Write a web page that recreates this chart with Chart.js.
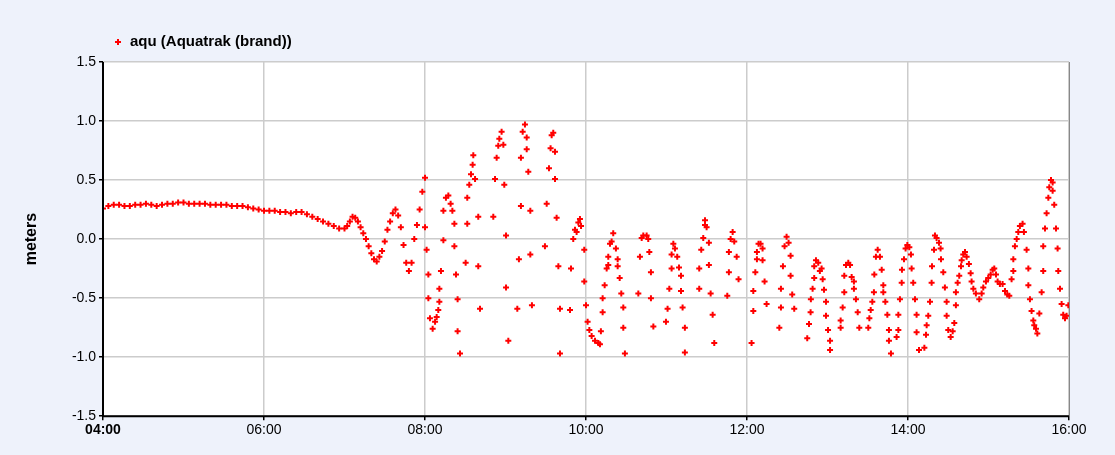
<!DOCTYPE html>
<html><head><meta charset="utf-8">
<script src="https://cdn.jsdelivr.net/npm/chart.js@4/dist/chart.umd.min.js"></script>
<style>html,body{margin:0;padding:0;background:#eef2fb;}canvas{display:block;}</style>
</head><body><canvas id="c" width="1115" height="455"></canvas>
<script>
// minutes after 04:00
const minutes = [0,4,8,12,16,20,24,28,32,36,40,44,48,52,56,60,64,68,72,76,80,84,88,92,96,100,104,108,112,116,120,124,128,132,136,140,144,148,152,156,160,164,168,172,176,180,182,184,186,188,190,192,194,196,198,200,202,204,206,208,210,212,214,216,218,220,222,224,226,228,230,232,234,236,238,240,
240,241.2,242.5,242.5,243.7,245.7,247.5,248.7,249.9,250.7,250.7,251.9,253.7,253.7,255.6,257.4,259.1,260.4,261.9,261.9,263.1,264.3,264.3,266.1,270.3,271.5,271.5,273,274.3,275.5,276,277.3,279.7,279.7,281,290.9,292.2,293.4,294.6,295.4,297.1,298.4,299.1,300.4,300.4,302.1,308.8,310,311.5,311.5,312.8,314.5,315.8,315.8,317,318.5,318.5,319.7,329.4,330.7,332.4,333.6,334.4,335.6,336.9,336.9,338.1,339.4,340.6,340.6,348.1,348.8,350.5,351.8,353,354.3,355.5,356.3,358.7,358.7,360,361.2,362.5,364.2,366.7,369.2,
370.4,371.1,372.4,372.4,373.9,375.4,376.6,376.6,377.9,379.1,380.3,382.3,383.6,383.6,385.1,386.3,387.8,387.8,389,399,400.2,401.5,402.7,405.2,406.4,407.2,408.4,408.4,410.2,419.6,420.8,422.1,423.8,423.8,425.1,426.3,428,429.3,430.8,430.8,432,433.7,433.7,444.4,444.4,445.9,447.4,448.7,448.7,449.9,451.6,451.6,452.9,454.4,455.6,465.3,466.5,466.5,467.8,469.3,470.5,472.3,473.7,483.4,484.7,484.7,486.2,487.4,487.4,488.6,490.1,491.6,491.6,493.1,494.6,504.1,505.3,505.3,506.8,508,509.5,511,512.5,512.5,513.7,515.2,524.9,526.2,527.4,527.6,528.9,530.1,530.1,531.4,533.1,534.3,535.6,536.4,537.4,538.9,538.9,540.4,541.9,541.9,
549.8,549.8,551.3,552.5,552.5,553.8,555.5,556.8,558,559.7,559.7,561.2,562.5,563.7,570.4,571.2,572.2,573.4,574.6,574.9,576.1,577.4,579.1,580.4,581.6,581.6,583.1,584.6,585.8,585.8,587.3,591.5,592.8,592.8,594,595.3,595.5,597,598.2,599.5,601,602.2,602.7,603.9,605.2,606.4,606.4,608.2,612.2,613.4,613.9,615.1,616.4,617.6,617.9,619.4,620.1,621.3,623.1,624.3,624.6,626.3,627.5,628.8,628.8,630,631.8,633.3,634.5,635.7,635.7,637,638.2,639.5,640,641.2,642.5,643.7,645.4,646.7,647.4,648.7,650.6,653.1,654.9,656.1,658.1,659.8,661.6,663.1,664.3,665.6,666.8,668.5,670.5,672.3,674,675.5,677.2,678.5,678.5,679.7,681,682.2,683.4,685.4,686.4,688.4,689.7,689.7,690.9,692.1,693.4,694.1,695.4,696.4,697.9,699.6,700.8,700.8,702.1,703.3,704.6,705.3,706.6,707.8,707.8,709,710.3,711.5,712,713.3,714.5,715.7,717,718.2,719.5];
const meters = [0.26,0.28,0.29,0.29,0.28,0.28,0.29,0.29,0.30,0.29,0.28,0.29,0.30,0.30,0.31,0.31,0.30,0.30,0.30,0.30,0.29,0.29,0.29,0.29,0.28,0.28,0.28,0.27,0.26,0.25,0.24,0.24,0.24,0.23,0.23,0.22,0.23,0.23,0.21,0.19,0.17,0.15,0.13,0.11,0.09,0.09,0.11,0.15,0.19,0.18,0.15,0.10,0.05,0.0,-0.06,-0.12,-0.17,-0.19,-0.15,-0.10,-0.02,0.08,0.15,0.22,0.25,0.20,0.10,-0.05,-0.20,-0.27,-0.20,0.0,0.12,0.25,0.40,0.52,
0.10,-0.09,-0.30,-0.50,-0.67,-0.76,-0.70,-0.66,-0.60,-0.53,-0.42,-0.27,-0.01,0.24,0.35,0.37,0.30,0.24,0.13,-0.06,-0.30,-0.51,-0.78,-0.97,-0.20,0.13,0.35,0.46,0.55,0.63,0.71,0.51,0.19,-0.23,-0.59,0.19,0.51,0.69,0.79,0.85,0.91,0.80,0.46,0.03,-0.41,-0.86,-0.59,-0.17,0.28,0.69,0.91,0.97,0.86,0.76,0.57,0.24,-0.13,-0.56,-0.06,0.30,0.60,0.77,0.88,0.90,0.74,0.51,0.18,-0.23,-0.59,-0.97,-0.60,-0.25,0.0,0.08,0.06,0.14,0.17,0.11,-0.09,-0.36,-0.56,-0.70,-0.77,-0.82,-0.86,-0.88,
-0.89,-0.78,-0.62,-0.50,-0.39,-0.25,-0.15,-0.22,-0.04,-0.02,0.05,-0.08,-0.17,-0.23,-0.33,-0.46,-0.58,-0.75,-0.97,-0.46,-0.15,0.01,0.03,0.03,0.0,-0.11,-0.28,-0.50,-0.74,-0.70,-0.59,-0.42,-0.25,-0.13,-0.04,-0.08,-0.15,-0.24,-0.31,-0.44,-0.58,-0.75,-0.96,-0.42,-0.25,-0.09,0.01,0.12,0.16,0.10,-0.03,-0.22,-0.46,-0.64,-0.88,-0.48,-0.28,-0.11,0.0,0.06,-0.02,-0.15,-0.34,-0.88,-0.61,-0.44,-0.28,-0.17,-0.11,-0.04,-0.04,-0.08,-0.18,-0.36,-0.55,-0.75,-0.58,-0.42,-0.23,-0.06,0.02,-0.03,-0.14,-0.31,-0.47,-0.59,-0.84,-0.72,-0.62,-0.51,-0.42,-0.33,-0.23,-0.18,-0.20,-0.27,-0.25,-0.34,-0.43,-0.53,-0.65,-0.77,-0.86,-0.94,
-0.75,-0.69,-0.58,-0.45,-0.31,-0.22,-0.20,-0.22,-0.32,-0.36,-0.42,-0.51,-0.62,-0.75,-0.75,-0.67,-0.60,-0.53,-0.45,-0.30,-0.15,-0.09,-0.15,-0.26,-0.39,-0.45,-0.53,-0.64,-0.77,-0.86,-0.97,-0.83,-0.77,-0.64,-0.51,-0.37,-0.26,-0.17,-0.08,-0.05,-0.07,-0.13,-0.25,-0.37,-0.51,-0.64,-0.79,-0.94,-0.92,-0.81,-0.73,-0.65,-0.53,-0.37,-0.23,-0.09,0.03,0.01,-0.03,-0.08,-0.17,-0.28,-0.41,-0.53,-0.65,-0.77,-0.83,-0.78,-0.71,-0.56,-0.45,-0.37,-0.31,-0.23,-0.18,-0.13,-0.11,-0.15,-0.21,-0.29,-0.36,-0.42,-0.46,-0.51,-0.46,-0.41,-0.36,-0.33,-0.30,-0.26,-0.25,-0.30,-0.36,-0.38,-0.38,-0.44,-0.47,-0.48,-0.34,-0.27,-0.17,-0.06,0.0,0.06,0.11,0.13,0.06,-0.09,-0.25,-0.39,-0.51,-0.61,-0.69,-0.73,-0.76,-0.80,-0.63,-0.45,-0.27,-0.06,0.09,0.22,0.35,0.44,0.50,0.48,0.41,0.29,0.09,-0.08,-0.27,-0.42,-0.55,-0.64,-0.67,-0.65,-0.56];
const tickLabels = ['04:00','06:00','08:00','10:00','12:00','14:00','16:00'];
const seriesName = 'aqu (Aquatrak (brand))';

const pts = minutes.map((m,i)=>({x:m,y:meters[i]}));
const bgPlugin = {id:'bg',beforeDraw(c){const a=c.chartArea,x=c.ctx;x.save();x.fillStyle='#ffffff';x.fillRect(a.left,a.top,a.right-a.left,a.bottom-a.top);x.restore();},
 afterDraw(c){const a=c.chartArea,x=c.ctx;x.save();x.strokeStyle='#000';x.lineWidth=2;x.beginPath();x.moveTo(a.left,a.top);x.lineTo(a.left,a.bottom);x.lineTo(a.right,a.bottom);x.stroke();x.lineWidth=1;x.strokeStyle='#888';x.beginPath();x.moveTo(a.right+0.5,a.top);x.lineTo(a.right+0.5,a.bottom);x.stroke();
  // legend
  x.strokeStyle='#ff0000';x.lineWidth=2;x.beginPath();x.moveTo(115,42);x.lineTo(121,42);x.moveTo(118,39);x.lineTo(118,45);x.stroke();
  x.fillStyle='#000';x.font='bold 15px "Liberation Sans"';x.textBaseline='middle';x.fillText(c.data.datasets[0].label,130,42);
  x.restore();}};
new Chart(document.getElementById('c'),{
 type:'scatter',
 data:{datasets:[{label:seriesName,data:pts,pointStyle:'cross',radius:3,borderWidth:2,borderColor:'#ff0000',backgroundColor:'#ff0000'}]},
 options:{responsive:false,animation:false,
  layout:{padding:{left:20,right:46,top:62,bottom:14}},
  plugins:{tooltip:{enabled:false},legend:{display:false}},
  scales:{
   x:{type:'linear',min:0,max:720,
    afterBuildTicks(s){s.ticks=tickLabels.map((t,i)=>({value:i*120}));},
    ticks:{callback:(v)=>tickLabels[Math.round(v/120)],color:'#000',maxRotation:0,font:(ctx)=>({family:'Liberation Sans',size:14,weight:ctx.index===0?'bold':'normal'}),padding:2},
    grid:{color:'#cccccc',lineWidth:1.5,tickLength:4,tickColor:'#000'},border:{display:false}},
   y:{min:-1.5,max:1.5,
    afterFit(s){s.width=83;},
    ticks:{stepSize:0.5,callback:v=>v.toFixed(1),color:'#000',font:{family:'Liberation Sans',size:14},padding:3},
    title:{display:true,text:'meters',color:'#000',font:{family:'Liberation Sans',size:16,weight:'bold'},padding:2},
    grid:{color:'#cccccc',lineWidth:1.5,tickLength:4,tickColor:'#000'},border:{display:false}}
  }},
 plugins:[bgPlugin]});
</script></body></html>
